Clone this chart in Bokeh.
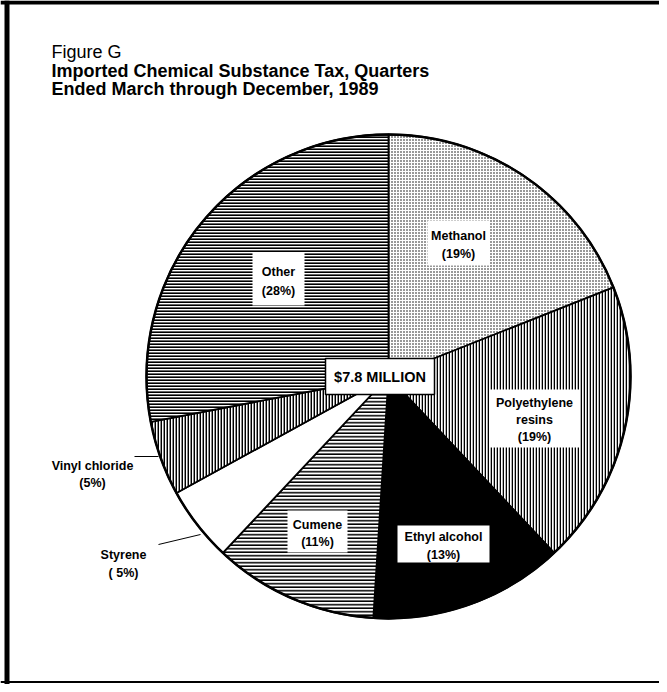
import numpy as np
from bokeh.plotting import figure
from bokeh.models import Range1d, Span
from bokeh.embed import file_html
from bokeh.resources import INLINE
from bokeh.core.properties import value

# ---------------- data ----------------
categories = ["Methanol", "Polyethylene resins", "Ethyl alcohol", "Cumene",
              "Styrene", "Vinyl chloride", "Other"]
shares = [19, 19, 13, 11, 5, 5, 28]          # percent of $7.8 million
label_lines = [["Methanol", "(19%)"],
               ["Polyethylene", "resins", "(19%)"],
               ["Ethyl alcohol", "(13%)"],
               ["Cumene", "(11%)"],
               ["Styrene", "( 5%)"],
               ["Vinyl chloride", "(5%)"],
               ["Other", "(28%)"]]
total_label = "$7.8 MILLION"
title_lines = ["Figure G",
               "Imported Chemical Substance Tax, Quarters",
               "Ended March through December, 1989"]

# ---------------- styles / layout (screen px) ----------------
FONT = value("Liberation Sans")
W, H = 659, 684
cx, cy, R = 396, 384, 242

fills = ["white", "white", "black", "white", "white", "white", "white"]
hatches = ["dot", "vertical_line", None, "horizontal_line", None, "vertical_line", "horizontal_line"]
hscale = [3, 3, 1, 3.5, 1, 3, 3]
hweight = [1.2, 1.6, 1, 1.6, 1, 1.9, 2.2]

# label layout: center x, first-line y, line step, box (x0, y0, x1, y1) or None
label_layout = [
    (466, 243, 18, (435, 228, 497, 273)),
    (542, 410, 17, (497, 397, 587, 455)),
    (451, 544, 18, (405, 533, 497, 570)),
    (325, 532, 17, (295, 518, 355, 560)),
    (131, 562, 18, None),
    (100, 473, 17, None),
    (286, 279, 19, (260, 260, 312, 313)),
]
leaders = [None, None, None, None, ((166, 552), (208, 542)), ((142, 464), (166, 464)), None]
center_box = (333, 366, 442, 402)

p = figure(width=W, height=H, output_backend="svg", toolbar_location=None,
           x_range=Range1d(8, 8 + W), y_range=Range1d(-(8 + H), -8),
           min_border=0, outline_line_color=None)
p.axis.visible = False
p.grid.visible = False
p.background_fill_color = "white"

# frame of the figure
p.add_layout(Span(location=14.5, dimension="height", line_color="black", line_width=5))
p.add_layout(Span(location=-10, dimension="width", line_color="black", line_width=4))
p.add_layout(Span(location=-689.5, dimension="width", line_color="black", line_width=2))

# title
p.text(x=[59], y=[-59], text=[title_lines[0]], text_font=FONT, text_font_size="18px",
       text_baseline="alphabetic", text_color="black")
p.text(x=[59, 59], y=[-78, -96], text=title_lines[1:], text_font=FONT, text_font_size="18px",
       text_font_style="bold", text_baseline="alphabetic", text_color="black")

# wedges: clockwise from 12 o'clock
cum = np.concatenate([[0], np.cumsum(shares)]) / 100 * 360
for i, cat in enumerate(categories):
    t1, t2 = cum[i], cum[i + 1]
    kw = dict(x=cx, y=-cy, radius=R, start_angle=np.radians(90 - t2), end_angle=np.radians(90 - t1),
              fill_color=fills[i], line_color="black", line_width=1.8)
    if hatches[i]:
        kw.update(hatch_pattern=hatches[i], hatch_color="black", hatch_scale=hscale[i],
                  hatch_weight=hweight[i])
    p.wedge(**kw)
p.circle(x=[cx], y=[-cy], radius=R, fill_color=None, line_color="black", line_width=2.5)

# labels
for i, lines in enumerate(label_lines):
    lx, ly, step, box = label_layout[i]
    if box:
        x0, y0, x1, y1 = box
        p.quad(left=[x0], right=[x1], top=[-y0], bottom=[-y1], fill_color="white", line_color=None)
    ys = [-(ly + k * step) for k in range(len(lines))]
    p.text(x=[lx] * len(lines), y=ys, text=lines, text_font=FONT, text_font_size="12.5px",
           text_font_style="bold", text_align="center", text_baseline="middle", text_color="black")
    if leaders[i]:
        (ax, ay), (bx, by) = leaders[i]
        p.segment(x0=[ax], y0=[-ay], x1=[bx], y1=[-by], line_color="black", line_width=1)

x0, y0, x1, y1 = center_box
p.quad(left=[x0], right=[x1], top=[-y0], bottom=[-y1], fill_color="white",
       line_color="black", line_width=1.5)
p.text(x=[(x0 + x1) / 2], y=[-(y0 + y1) / 2], text=[total_label], text_font=FONT,
       text_font_size="14.5px", text_font_style="bold", text_align="center",
       text_baseline="middle", text_color="black")

open("out.html", "w").write(file_html(p, INLINE))
